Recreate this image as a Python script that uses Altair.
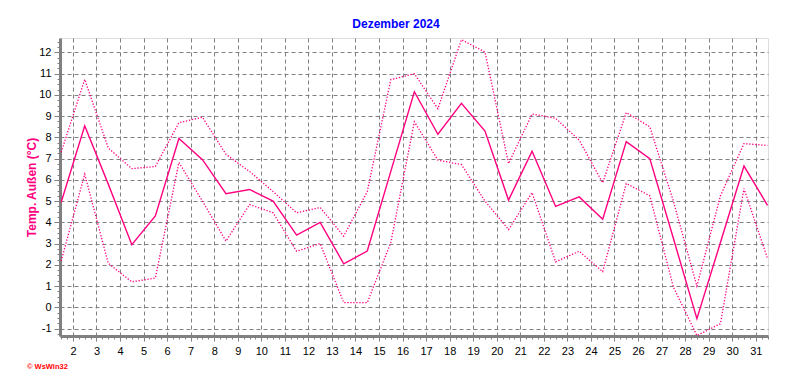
import altair as alt
import pandas as pd

# ---- data (December 2024, outside temperature) ----
days = list(range(1, 32))
t_mean = [4.95, 8.55, 5.8, 2.95, 4.3, 7.95, 6.95, 5.35, 5.55, 5.0,
          3.4, 4.0, 2.05, 2.65, 6.4, 10.15, 8.15, 9.6, 8.3, 5.05,
          7.35, 4.75, 5.2, 4.15, 7.8, 7.0, 3.25, -0.53, 3.05, 6.65, 4.8]
t_max = [7.3, 10.73, 7.5, 6.53, 6.63, 8.69, 8.95, 7.2, 6.4, 5.45,
         4.45, 4.7, 3.35, 5.45, 10.72, 11.0, 9.35, 12.6, 12.02, 6.77,
         9.1, 8.9, 7.87, 5.86, 9.17, 8.5, 5.0, 1.0, 5.25, 7.71, 7.62]
t_min = [2.18, 6.27, 2.07, 1.2, 1.38, 6.82, 5.0, 3.12, 4.84, 4.45,
         2.64, 3.0, 0.22, 0.22, 3.05, 8.74, 6.93, 6.72, 5.0, 3.66,
         5.4, 2.14, 2.64, 1.68, 5.83, 5.25, 0.96, -1.33, -0.77, 5.59, 2.3]

x_ticks = list(range(2, 32))
y_ticks = list(range(-1, 13))
x_minor = [1.5 + 0.25 * i for i in range(121)]
y_minor = [-1.25 + 0.25 * i for i in range(56)]

title_text = "Dezember 2024"
y_title = "Temp. Außen (°C)"
credit = "© WsWin32"

df = pd.DataFrame({"day": days, "mean": t_mean, "max": t_max, "min": t_min})
df["pos"] = df["day"] + 0.5  # daily values drawn at mid-day

FONT = "Liberation Sans"
PINK = "#ff0080"
GRAY = "#808080"

x_scale = alt.Scale(domain=[1.45, 31.52], nice=False, zero=False)
y_scale = alt.Scale(domain=[-1.35, 12.68], nice=False, zero=False)

x_axis = alt.Axis(values=x_ticks, orient="bottom", grid=True, gridDash=[4, 3],
                  gridColor=GRAY, gridOpacity=1, gridWidth=1,
                  domainColor=GRAY, domainWidth=3, tickColor=GRAY, tickSize=5,
                  labelFontSize=11, labelColor="black", labelFont=FONT,
                  labelPadding=4, labelFlush=False, labelOverlap=False,
                  labelExpr="'' + datum.value", title=None)
y_axis = alt.Axis(values=y_ticks, orient="left", grid=True, gridDash=[4, 3],
                  gridColor=GRAY, gridOpacity=1, gridWidth=1,
                  domainColor=GRAY, domainWidth=3, tickColor=GRAY, tickSize=6,
                  labelFontSize=11, labelColor="black", labelFont=FONT,
                  labelPadding=3, labelFlush=False, labelOverlap=False,
                  labelExpr="'' + datum.value",
                  title=y_title, titleColor=PINK, titleFont=FONT,
                  titleFontSize=12, titleFontWeight="bold", titleAngle=270,
                  titleAlign="center", titleBaseline="middle",
                  titleX=-29, titleY=149)

base = alt.Chart(df)

mean_line = base.mark_line(color=PINK, strokeWidth=1.4).encode(
    x=alt.X("pos:Q", scale=x_scale, axis=x_axis),
    y=alt.Y("mean:Q", scale=y_scale, axis=y_axis),
)
max_line = base.mark_line(color=PINK, strokeWidth=1.3, strokeDash=[1.3, 1.7]).encode(
    x=alt.X("pos:Q", scale=x_scale, axis=None),
    y=alt.Y("max:Q", scale=y_scale, axis=None),
)
min_line = base.mark_line(color=PINK, strokeWidth=1.3, strokeDash=[1.3, 1.7]).encode(
    x=alt.X("pos:Q", scale=x_scale, axis=None),
    y=alt.Y("min:Q", scale=y_scale, axis=None),
)
minor = base.mark_line(opacity=0).encode(
    x=alt.X("pos:Q", scale=x_scale,
            axis=alt.Axis(values=x_minor, orient="bottom", grid=False, labels=False,
                          domain=False, tickSize=3, tickColor=GRAY, title=None)),
    y=alt.Y("mean:Q", scale=y_scale,
            axis=alt.Axis(values=y_minor, orient="left", grid=False, labels=False,
                          domain=False, tickSize=3, tickColor=GRAY, title=None)),
)
credit_mark = alt.Chart(df).transform_filter("datum.day == 1").mark_text(
    text=credit, color="#ff0000", fontSize=7.5, fontWeight="bold", font=FONT,
    align="left", baseline="middle", clip=False,
).encode(x=alt.value(-33), y=alt.value(329))

chart = alt.layer(minor, mean_line, max_line, min_line, credit_mark).resolve_axis(
    x="independent", y="independent"
).properties(
    width=708, height=298,
    padding={"left": 52, "top": 30, "right": 10, "bottom": 40},
    autosize=alt.AutoSizeParams(type="none"),
    title=alt.TitleParams(title_text, color="#0000ff", fontSize=12, fontWeight="bold",
                          font=FONT, anchor="middle", dx=-18, dy=12, offset=9,
                          baseline="alphabetic"),
).configure_view(stroke="black", strokeWidth=1).configure(background="white")

chart.save("out.html", embed_options={"renderer": "svg", "actions": False})
